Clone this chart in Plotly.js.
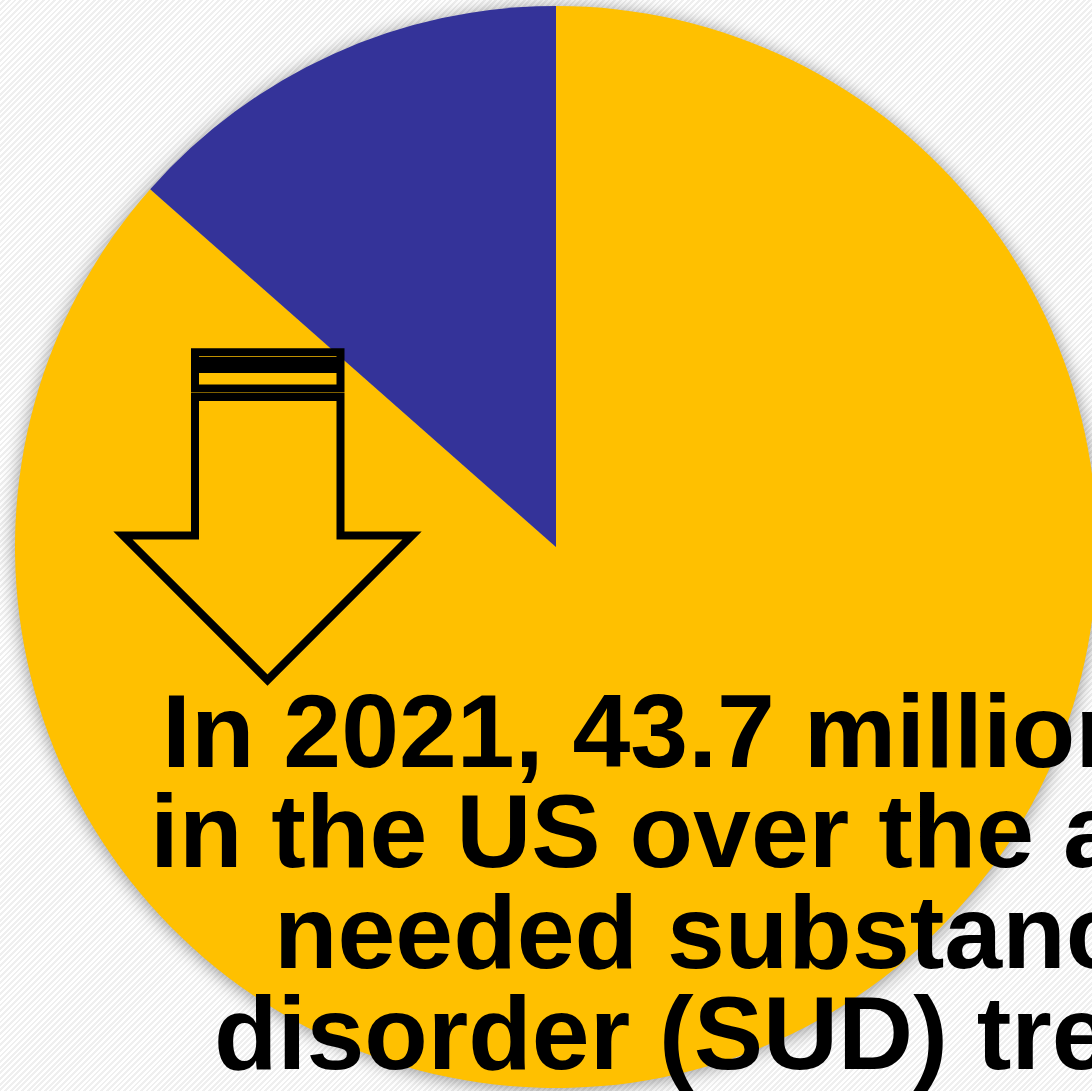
<!DOCTYPE html>
<html>
<head>
<meta charset="utf-8">
<script src="https://cdn.plot.ly/plotly-3.0.1.min.js"></script>
<style>
  html, body { margin: 0; padding: 0; overflow: hidden; width: 1092px; height: 1091px;
    background: repeating-linear-gradient(135deg, #ffffff 0px, #ffffff 2px, #efefef 2px, #efefef 4px); }
  #chart { width: 1400px; height: 1300px; }
  .pielayer .trace { filter: drop-shadow(0px 2px 9px rgba(0,0,0,0.42)); }
</style>
</head>
<body>
<div id="chart"></div>
<script>
// Data (drawn clockwise from 12 o'clock)
const labels = ["Did not receive SUD treatment", "Received SUD treatment"];
const values = [86.5, 13.5];
const colors = ["#FFC000", "#343399"];
const textLines = [
  "In 2021, 43.7 million people",
  "in the US over the age of 12",
  "needed substance use",
  "disorder (SUD) treatment"
];

// Layout geometry (pixel space of the drawing area)
const W = 1400, H = 1300;
const px = x => x / W;
const py = y => 1 - y / H;

const lineMid = [731, 831, 932, 1033];
const annotations = textLines.map((t, i) => ({
  text: "<b>" + t + "</b>",
  xref: "paper", yref: "paper",
  x: px(832), y: py(lineMid[i]),
  xanchor: "center", yanchor: "middle",
  showarrow: false,
  font: { family: "Liberation Sans, Arial, sans-serif", size: 104, color: "#000000" }
}));

function rectPath(x0, y0, x1, y1) {
  return `M${px(x0)},${py(y0)} L${px(x1)},${py(y0)} L${px(x1)},${py(y1)} L${px(x0)},${py(y1)} Z`;
}
const arrowPts = [[195,397],[340.5,397],[340.5,535.5],[412,535.5],[267.5,680],[123,535.5],[195,535.5]];
const arrowPath = "M" + arrowPts.map(p => px(p[0]) + "," + py(p[1])).join(" L") + " Z";
const shapeLine = { color: "#000000", width: 8 };
const shapes = [
  { type: "path", xref: "paper", yref: "paper", path: rectPath(195, 352.3, 340.5, 361), line: shapeLine, fillcolor: "rgba(0,0,0,0)", layer: "above" },
  { type: "path", xref: "paper", yref: "paper", path: rectPath(195, 369, 340.5, 388.5), line: shapeLine, fillcolor: "rgba(0,0,0,0)", layer: "above" },
  { type: "path", xref: "paper", yref: "paper", path: arrowPath, line: shapeLine, fillcolor: "rgba(0,0,0,0)", layer: "above" }
];

const trace = {
  type: "pie",
  labels: labels,
  values: values,
  marker: { colors: colors, line: { width: 0 } },
  sort: false,
  direction: "clockwise",
  rotation: 0,
  textinfo: "none",
  hoverinfo: "skip",
  domain: { x: [px(15), px(1097)], y: [py(1088), py(6)] }
};

const layout = {
  width: W, height: H,
  margin: { l: 0, r: 0, t: 0, b: 0, pad: 0 },
  paper_bgcolor: "rgba(0,0,0,0)",
  plot_bgcolor: "rgba(0,0,0,0)",
  showlegend: false,
  annotations: annotations,
  shapes: shapes
};

Plotly.newPlot("chart", [trace], layout, { displayModeBar: false, staticPlot: true });
</script>
</body>
</html>
